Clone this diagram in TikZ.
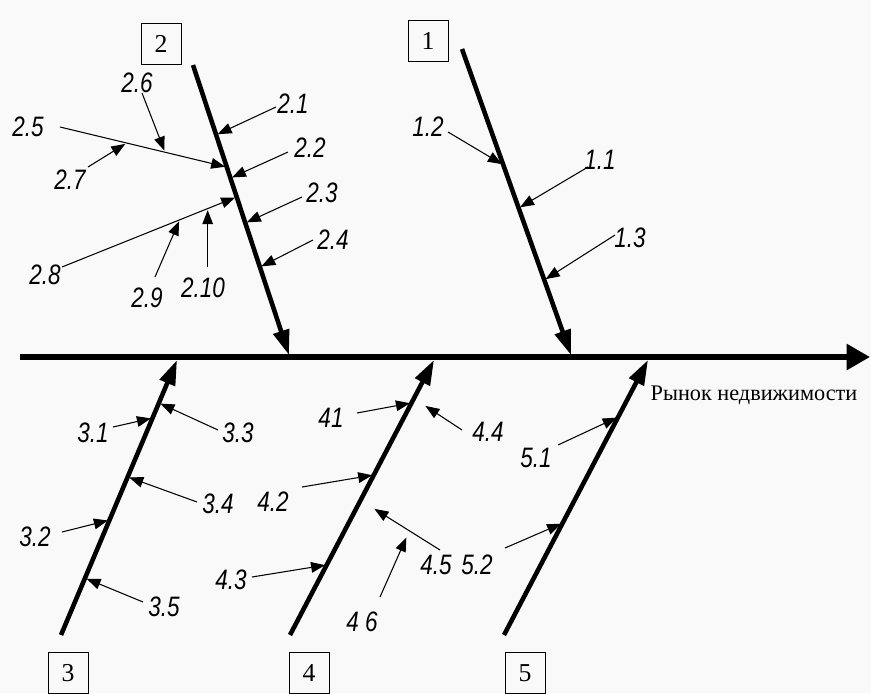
\documentclass[tikz,border=0pt]{standalone}
\usepackage{fontspec}
\setmainfont{Liberation Serif}
\newfontfamily\labfont[FakeStretch=0.8]{Liberation Sans}
\usetikzlibrary{arrows.meta,calc}
\begin{document}
\begin{tikzpicture}[x=0.03cm,y=-0.03cm,
  spine/.style={line width=4.8pt,-{Triangle[length=0.7cm,width=0.75cm]}},
  bone/.style={line width=3.9pt,-{Triangle[length=0.75cm,width=0.48cm]}},
  sub/.style={line width=0.9pt,-{Triangle[length=0.42cm,width=0.32cm]},shorten >=1.4pt},
  lab/.style={font=\labfont\itshape\fontsize{24}{24}\selectfont,inner sep=0pt},
  numbox/.style={draw,line width=0.8pt,minimum width=1.2cm,minimum height=1.25cm,font=\fontsize{22}{22}\selectfont,inner sep=0pt},
  title/.style={font=\fontsize{19}{19}\selectfont,inner sep=0pt}]
\fill[gray!5] (0,0) rectangle (871,693);
\useasboundingbox (0,0) rectangle (871,693);

% spine
\coordinate (s1) at (20,357);
\coordinate (s2) at (870,357);
\draw[spine] (s1) -- (s2);
\node[title] (ttl) at (754,395) {Рынок недвижимости};

% boxes
\node[numbox] (n1) at (428,41) {1};
\node[numbox] (n2) at (161,44) {2};
\node[numbox] (n3) at (68,673) {3};
\node[numbox] (n4) at (309,673) {4};
\node[numbox] (n5) at (525,673) {5};

% bones
\coordinate (b1s) at (462,49);  \coordinate (b1e) at (571,355);
\coordinate (b2s) at (193,65);  \coordinate (b2e) at (289,355);
\coordinate (b3s) at (61,635);  \coordinate (b3e) at (177,360);
\coordinate (b4s) at (290,635); \coordinate (b4e) at (434,360);
\coordinate (b5s) at (504,635); \coordinate (b5e) at (648,360);
\draw[bone] (b1s) -- (b1e);
\draw[bone] (b2s) -- (b2e);
\draw[bone] (b3s) -- (b3e);
\draw[bone] (b4s) -- (b4e);
\draw[bone] (b5s) -- (b5e);

% ---- bone 2
\node[lab] (l21) at (293,104) {2.1};
\coordinate (t21) at (276,107); \coordinate (h21) at ($(b2s)!0.241!(b2e)$);
\draw[sub] (t21) -- (h21);
\node[lab] (l22) at (310,148) {2.2};
\coordinate (t22) at (288,152); \coordinate (h22) at ($(b2s)!0.39!(b2e)$);
\draw[sub] (t22) -- (h22);
\node[lab] (l23) at (322,193) {2.3};
\coordinate (t23) at (302,197); \coordinate (h23) at ($(b2s)!0.545!(b2e)$);
\draw[sub] (t23) -- (h23);
\node[lab] (l24) at (333,240) {2.4};
\coordinate (t24) at (313,240); \coordinate (h24) at ($(b2s)!0.697!(b2e)$);
\draw[sub] (t24) -- (h24);
\node[lab] (l25) at (28,127) {2.5};
\coordinate (t25) at (60,127); \coordinate (h25) at ($(b2s)!0.352!(b2e)$);
\draw[sub] (t25) -- (h25);
\node[lab] (l26) at (137,83) {2.6};
\coordinate (t26) at (142,93); \coordinate (h26) at ($(t25)!0.63!(h25)$);
\draw[sub] (t26) -- (h26);
\node[lab] (l27) at (70,180) {2.7};
\coordinate (t27) at (88,167); \coordinate (h27) at ($(t25)!0.40!(h25)$);
\draw[sub] (t27) -- (h27);
\node[lab] (l28) at (45,275) {2.8};
\coordinate (t28) at (62,267); \coordinate (h28) at ($(b2s)!0.455!(b2e)$);
\draw[sub] (t28) -- (h28);
\node[lab] (l29) at (147,298) {2.9};
\coordinate (t29) at (155,277); \coordinate (h29) at ($(t28)!0.674!(h28)$);
\draw[sub] (t29) -- (h29);
\node[lab] (l210) at (203,288) {2.10};
\coordinate (h210) at ($(t28)!0.834!(h28)$); \coordinate (t210) at (h210 |- t28);
\draw[sub] (t210) -- (h210);

% ---- bone 1
\node[lab] (l12) at (428,127) {1.2};
\coordinate (t12) at (448,132); \coordinate (h12) at ($(b1s)!0.379!(b1e)$);
\draw[sub] (t12) -- (h12);
\node[lab] (l11) at (600,160) {1.1};
\coordinate (t11) at (588,167); \coordinate (h11) at ($(b1s)!0.52!(b1e)$);
\draw[sub] (t11) -- (h11);
\node[lab] (l13) at (630,238) {1.3};
\coordinate (t13) at (615,235); \coordinate (h13) at ($(b1s)!0.755!(b1e)$);
\draw[sub] (t13) -- (h13);

% ---- bone 3
\node[lab] (l31) at (93,433) {3.1};
\coordinate (t31) at (113,427); \coordinate (h31) at ($(b3s)!0.789!(b3e)$);
\draw[sub] (t31) -- (h31);
\node[lab] (l33) at (238,433) {3.3};
\coordinate (t33) at (218,430); \coordinate (h33) at ($(b3s)!0.844!(b3e)$);
\draw[sub] (t33) -- (h33);
\node[lab] (l34) at (218,504) {3.4};
\coordinate (t34) at (197,502); \coordinate (h34) at ($(b3s)!0.575!(b3e)$);
\draw[sub] (t34) -- (h34);
\node[lab] (l32) at (35,537) {3.2};
\coordinate (t32) at (62,532); \coordinate (h32) at ($(b3s)!0.418!(b3e)$);
\draw[sub] (t32) -- (h32);
\node[lab] (l35) at (164,607) {3.5};
\coordinate (t35) at (143,602); \coordinate (h35) at ($(b3s)!0.207!(b3e)$);
\draw[sub] (t35) -- (h35);

% ---- bone 4
\node[lab] (l41) at (331,418) {41};
\coordinate (t41) at (357,413); \coordinate (h41) at ($(b4s)!0.844!(b4e)$);
\draw[sub] (t41) -- (h41);
\node[lab] (l42) at (273,502) {4.2};
\coordinate (t42) at (302,487); \coordinate (h42) at ($(b4s)!0.582!(b4e)$);
\draw[sub] (t42) -- (h42);
\node[lab] (l43) at (231,580) {4.3};
\coordinate (t43) at (252,577); \coordinate (h43) at ($(b4s)!0.255!(b4e)$);
\draw[sub] (t43) -- (h43);
\node[lab] (l44) at (488,432) {4.4};
\coordinate (t44) at (462,430); \coordinate (h44) at (424,405);
\draw[sub] (t44) -- (h44);
\node[lab] (l45) at (436,565) {4.5};
\coordinate (t45) at (440,550); \coordinate (h45) at (373,508);
\draw[sub] (t45) -- (h45);
\node[lab] (l46) at (362,622) {4 6};
\coordinate (t46) at (380,597); \coordinate (h46) at (407,536);
\draw[sub] (t46) -- (h46);

% ---- bone 5
\node[lab] (l51) at (536,458) {5.1};
\coordinate (t51) at (558,445); \coordinate (h51) at ($(b5s)!0.793!(b5e)$);
\draw[sub] (t51) -- (h51);
\node[lab] (l52) at (477,565) {5.2};
\coordinate (t52) at (505,548); \coordinate (h52) at ($(b5s)!0.407!(b5e)$);
\draw[sub] (t52) -- (h52);
\end{tikzpicture}
\end{document}
